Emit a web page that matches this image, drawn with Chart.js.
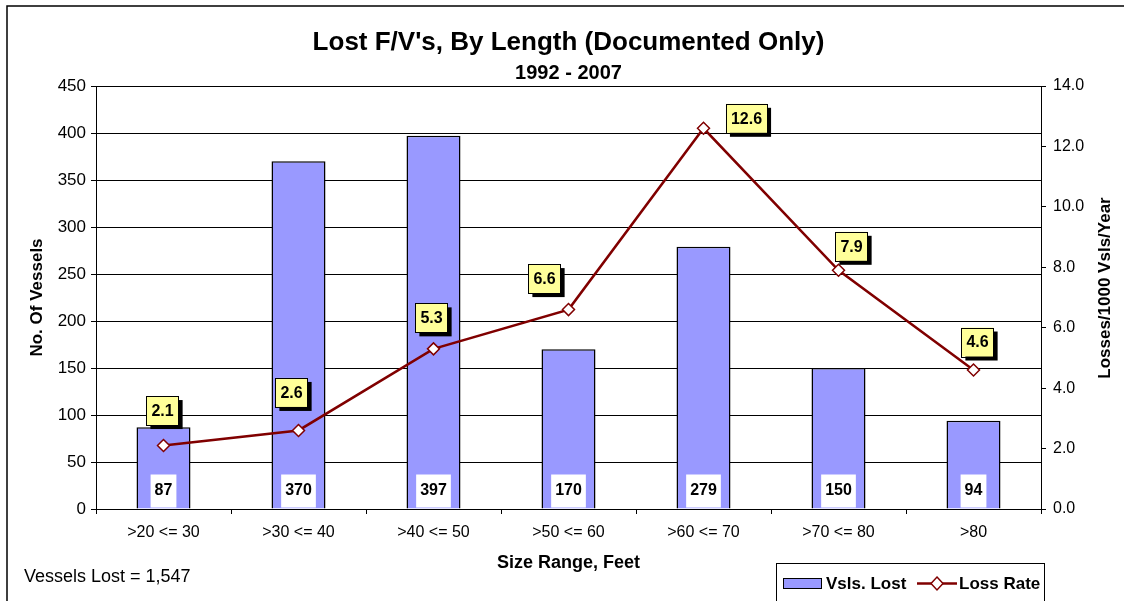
<!DOCTYPE html>
<html>
<head>
<meta charset="utf-8">
<script src="https://cdn.jsdelivr.net/npm/chart.js@4/dist/chart.umd.min.js"></script>
<style>
  html, body { margin: 0; padding: 0; background: #fff; overflow: hidden; }
  canvas { display: block; }
</style>
</head>
<body>
<canvas id="myChart" width="1124" height="601"></canvas>
<script>
// data
var sizeRanges = [">20 <= 30", ">30 <= 40", ">40 <= 50", ">50 <= 60", ">60 <= 70", ">70 <= 80", ">80"];
var vesselsLost = [87, 370, 397, 170, 279, 150, 94];
var lossRate = [2.1, 2.6, 5.3, 6.6, 12.6, 7.9, 4.6];
var leftTicks = [0, 50, 100, 150, 200, 250, 300, 350, 400, 450];
var rightTicks = [0, 2, 4, 6, 8, 10, 12, 14];
var footNote = "Vessels Lost = 1,547";

// where the yellow rate boxes sit, relative to their point (dx, dy)
var rateLabelOffsets = [[-1, -35], [-7, -38], [-2, -31], [-24, -31], [43, -10], [13, -24], [4, -28]];

var FONT = "'Liberation Sans', Arial, sans-serif";
var barFill = "#9999FF";
var lineColor = "#800000";

var boxPlugin = {
    id: 'boxes',
    beforeDraw: function (chart) {
        var ctx = chart.ctx;
        ctx.save();
        ctx.fillStyle = '#fff';
        ctx.fillRect(0, 0, chart.width, chart.height);
        // outer frame (runs off the right/bottom edge)
        ctx.strokeStyle = '#000';
        ctx.lineWidth = 1.5;
        ctx.strokeRect(7, 6, 1300, 800);
        ctx.restore();
    },
    afterDatasetsDraw: function (chart) {
        var ctx = chart.ctx;
        ctx.save();
        ctx.font = "bold 16px " + FONT;
        ctx.textAlign = 'center';
        ctx.textBaseline = 'middle';

        // white value boxes at the foot of the bars
        var bars = chart.getDatasetMeta(0).data;
        bars.forEach(function (el, i) {
            var txt = String(vesselsLost[i]);
            var w = ctx.measureText(txt).width + 8;
            var h = 33;
            ctx.fillStyle = '#fff';
            ctx.fillRect(el.x - w / 2, el.base - h - 1, w, h);
            ctx.fillStyle = '#000';
            ctx.fillText(txt, el.x, el.base - h / 2 - 1);
        });

        // yellow rate boxes with a drop shadow
        var pts = chart.getDatasetMeta(1).data;
        pts.forEach(function (el, i) {
            var txt = lossRate[i].toFixed(1);
            var w = ctx.measureText(txt).width + 10;
            var h = 29;
            var cx = el.x + rateLabelOffsets[i][0];
            var cy = el.y + rateLabelOffsets[i][1];
            ctx.fillStyle = '#000';
            ctx.fillRect(cx - w / 2 + 4, cy - h / 2 + 4, w, h);
            ctx.fillStyle = '#FFFF99';
            ctx.fillRect(cx - w / 2, cy - h / 2, w, h);
            ctx.strokeStyle = '#000';
            ctx.lineWidth = 1;
            ctx.strokeRect(Math.round(cx - w / 2) + 0.5, Math.round(cy - h / 2) + 0.5, Math.round(w), Math.round(h));
            ctx.fillStyle = '#000';
            ctx.fillText(txt, cx, cy + 1);
        });
        ctx.restore();
    },
    afterDraw: function (chart) {
        var ctx = chart.ctx;
        ctx.save();

        // right axis title, reading bottom to top
        ctx.font = "bold 17px " + FONT;
        ctx.fillStyle = '#000';
        ctx.textAlign = 'center';
        ctx.textBaseline = 'middle';
        ctx.translate(1105, 288);
        ctx.rotate(-Math.PI / 2);
        ctx.fillText("Losses/1000 Vsls/Year", 0, 0);
        ctx.setTransform(1, 0, 0, 1, 0, 0);

        // footnote
        ctx.font = "18px " + FONT;
        ctx.textAlign = 'left';
        ctx.fillText(footNote, 24, 577);

        // legend
        ctx.strokeStyle = '#000';
        ctx.lineWidth = 1;
        ctx.strokeRect(776.5, 563.5, 268, 60);
        ctx.fillStyle = barFill;
        ctx.fillRect(783, 578, 38, 10);
        ctx.strokeRect(783.5, 578.5, 38, 10);
        ctx.fillStyle = '#000';
        ctx.font = "bold 17px " + FONT;
        ctx.fillText(chart.data.datasets[0].label, 826, 584);
        ctx.strokeStyle = lineColor;
        ctx.lineWidth = 2.5;
        ctx.beginPath();
        ctx.moveTo(917, 583.5);
        ctx.lineTo(957, 583.5);
        ctx.stroke();
        ctx.lineWidth = 1.5;
        ctx.fillStyle = '#fff';
        ctx.beginPath();
        ctx.moveTo(937, 577);
        ctx.lineTo(943, 583.5);
        ctx.lineTo(937, 590);
        ctx.lineTo(931, 583.5);
        ctx.closePath();
        ctx.fill();
        ctx.stroke();
        ctx.fillStyle = '#000';
        ctx.fillText(chart.data.datasets[1].label, 959, 584);
        ctx.restore();
    }
};

new Chart(document.getElementById('myChart'), {
    type: 'bar',
    data: {
        labels: sizeRanges,
        datasets: [{
            type: 'bar',
            label: 'Vsls. Lost',
            data: vesselsLost,
            yAxisID: 'y',
            backgroundColor: barFill,
            borderColor: '#000',
            borderWidth: 1.5,
            barPercentage: 0.4,
            categoryPercentage: 1.0,
            order: 2
        }, {
            type: 'line',
            label: 'Loss Rate',
            data: lossRate,
            yAxisID: 'y1',
            borderColor: lineColor,
            borderWidth: 2.5,
            pointStyle: 'rectRot',
            pointRadius: 6,
            pointBackgroundColor: '#fff',
            pointBorderColor: lineColor,
            pointBorderWidth: 1.5,
            tension: 0,
            order: 1
        }]
    },
    options: {
        responsive: false,
        animation: false,
        events: [],
        layout: { padding: 0 },
        plugins: {
            legend: { display: false },
            tooltip: { enabled: false },
            title: {
                display: true,
                fullSize: false,
                text: "Lost F/V's, By Length (Documented Only)",
                color: '#000',
                font: { family: FONT, size: 26, weight: 'bold', lineHeight: 1.2 },
                padding: { top: 27, bottom: 0 }
            },
            subtitle: {
                display: true,
                fullSize: false,
                text: "1992 - 2007",
                color: '#000',
                font: { family: FONT, size: 20, weight: 'bold', lineHeight: 1.2 },
                padding: { top: 3, bottom: 0.8 }
            }
        },
        scales: {
            x: {
                grid: { display: true, drawOnChartArea: false, drawTicks: true, tickLength: 5, color: '#000', offset: true },
                border: { display: true, color: '#000', width: 1 },
                ticks: { color: '#000', font: { family: FONT, size: 16 }, padding: 9, maxRotation: 0, autoSkip: false },
                title: {
                    display: true,
                    text: 'Size Range, Feet',
                    color: '#000',
                    font: { family: FONT, size: 18, weight: 'bold', lineHeight: 1.2 },
                    padding: { top: 0, bottom: 27 }
                },
                afterFit: function (scale) { scale.height = 92; }
            },
            y: {
                position: 'left',
                min: 0,
                max: 450,
                afterBuildTicks: function (scale) {
                    scale.ticks = leftTicks.map(function (v) { return { value: v }; });
                },
                grid: { color: '#000', lineWidth: 1, drawTicks: true, tickLength: 5 },
                border: { display: true, color: '#000', width: 1 },
                ticks: { color: '#000', font: { family: FONT, size: 17 }, padding: 5 },
                title: {
                    display: true,
                    text: 'No. Of Vessels',
                    color: '#000',
                    font: { family: FONT, size: 17, weight: 'bold', lineHeight: 1.2 },
                    padding: { top: 27, bottom: 0 }
                },
                afterFit: function (scale) { scale.width = 96; }
            },
            y1: {
                position: 'right',
                min: 0,
                max: 14,
                afterBuildTicks: function (scale) {
                    scale.ticks = rightTicks.map(function (v) { return { value: v }; });
                },
                grid: { drawOnChartArea: false, drawTicks: true, tickLength: 5, color: '#000' },
                border: { display: true, color: '#000', width: 1 },
                ticks: {
                    color: '#000',
                    font: { family: FONT, size: 16 },
                    padding: 7,
                    callback: function (v) { return Number(v).toFixed(1); }
                },
                afterFit: function (scale) { scale.width = 83; }
            }
        }
    },
    plugins: [boxPlugin]
});
</script>
</body>
</html>
